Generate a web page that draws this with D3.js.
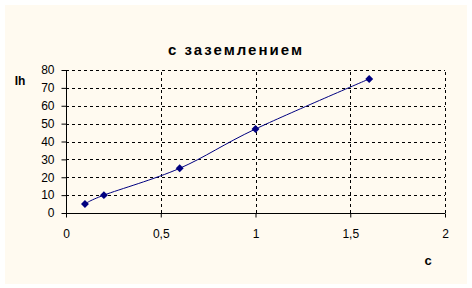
<!DOCTYPE html>
<html><head><meta charset="utf-8">
<script src="https://cdn.jsdelivr.net/npm/d3@7"></script>
<style>
html,body{margin:0;padding:0;background:#fff;}
svg{display:block;}
text{font-family:Arial,"Liberation Sans",sans-serif;}
</style></head>
<body>
<svg id="c" width="472" height="288"></svg>
<script>
const xValues = [0.1, 0.2, 0.6, 1.0, 1.6];
const yValues = [5, 10, 25, 47, 75];
const xTicks = [0, 0.5, 1, 1.5, 2];
const yTicks = [0, 10, 20, 30, 40, 50, 60, 70, 80];
const title = "с заземлением";
const xTitle = "c";
const yTitle = "Ih";

const svg = d3.select("#c");
svg.append("rect").attr("x",5).attr("y",5).attr("width",462).attr("height",279).attr("fill","#FFFAF0");

const x = d3.scaleLinear().domain([0,2]).range([66,445]);
const y = d3.scaleLinear().domain([0,80]).range([213,70]);
const fmt = d => String(d).replace(".", ",");

// gridlines
const g = svg.append("g");
g.selectAll("line.h").data(yTicks.filter(d=>d>0)).join("line")
  .attr("x1",x(0)).attr("x2",x(2)).attr("y1",d=>Math.round(y(d))+0.5).attr("y2",d=>Math.round(y(d))+0.5)
  .attr("stroke","#000").attr("stroke-dasharray","3,3");
g.selectAll("line.v").data(xTicks.filter(d=>d>0)).join("line")
  .attr("y1",y(0)).attr("y2",y(80)).attr("x1",d=>Math.round(x(d))+0.5).attr("x2",d=>Math.round(x(d))+0.5)
  .attr("stroke","#000").attr("stroke-dasharray","3,3");

// axes
const xa = svg.append("g").attr("transform",`translate(0,${Math.round(y(0))+0.5})`)
  .call(d3.axisBottom(x).tickValues(xTicks).tickFormat(fmt).tickSize(4).tickPadding(12));
const ya = svg.append("g").attr("transform",`translate(${Math.round(x(0))+0.5},0)`)
  .call(d3.axisLeft(y).tickValues(yTicks).tickSize(5).tickPadding(7));
[xa,ya].forEach(a=>{
  a.selectAll("text").attr("font-size","12px").attr("fill","#000").attr("font-family","Arial,'Liberation Sans',sans-serif");
  a.selectAll(".tick line").attr("stroke","#000");
});
xa.select(".domain").attr("stroke","#000").attr("d",`M${x(0)},0H${x(2)}`);
ya.select(".domain").attr("stroke","#000").attr("d",`M0,${y(0)}V${y(80)}`);

// line
const pts = xValues.map((v,i)=>[x(v), y(yValues[i])]);
svg.append("path").attr("d", d3.line().curve(d3.curveCatmullRom.alpha(0))(pts))
  .attr("fill","none").attr("stroke","#000080").attr("stroke-width",1);
svg.selectAll("path.m").data(pts).join("path")
  .attr("d", d3.symbol(d3.symbolDiamond2, 40)())
  .attr("transform", d=>`translate(${d[0]},${d[1]})`)
  .attr("fill","#000080");

// titles
svg.append("text").attr("x",236).attr("y",55).attr("text-anchor","middle")
  .attr("font-size","15px").attr("font-weight","bold").attr("letter-spacing","2px").text(title);
svg.append("text").attr("x",20).attr("y",85).attr("text-anchor","middle")
  .attr("font-size","12px").attr("font-weight","bold").text(yTitle);
svg.append("text").attr("x",428).attr("y",265).attr("text-anchor","middle")
  .attr("font-size","13px").attr("font-weight","bold").text(xTitle);
</script>
</body></html>
